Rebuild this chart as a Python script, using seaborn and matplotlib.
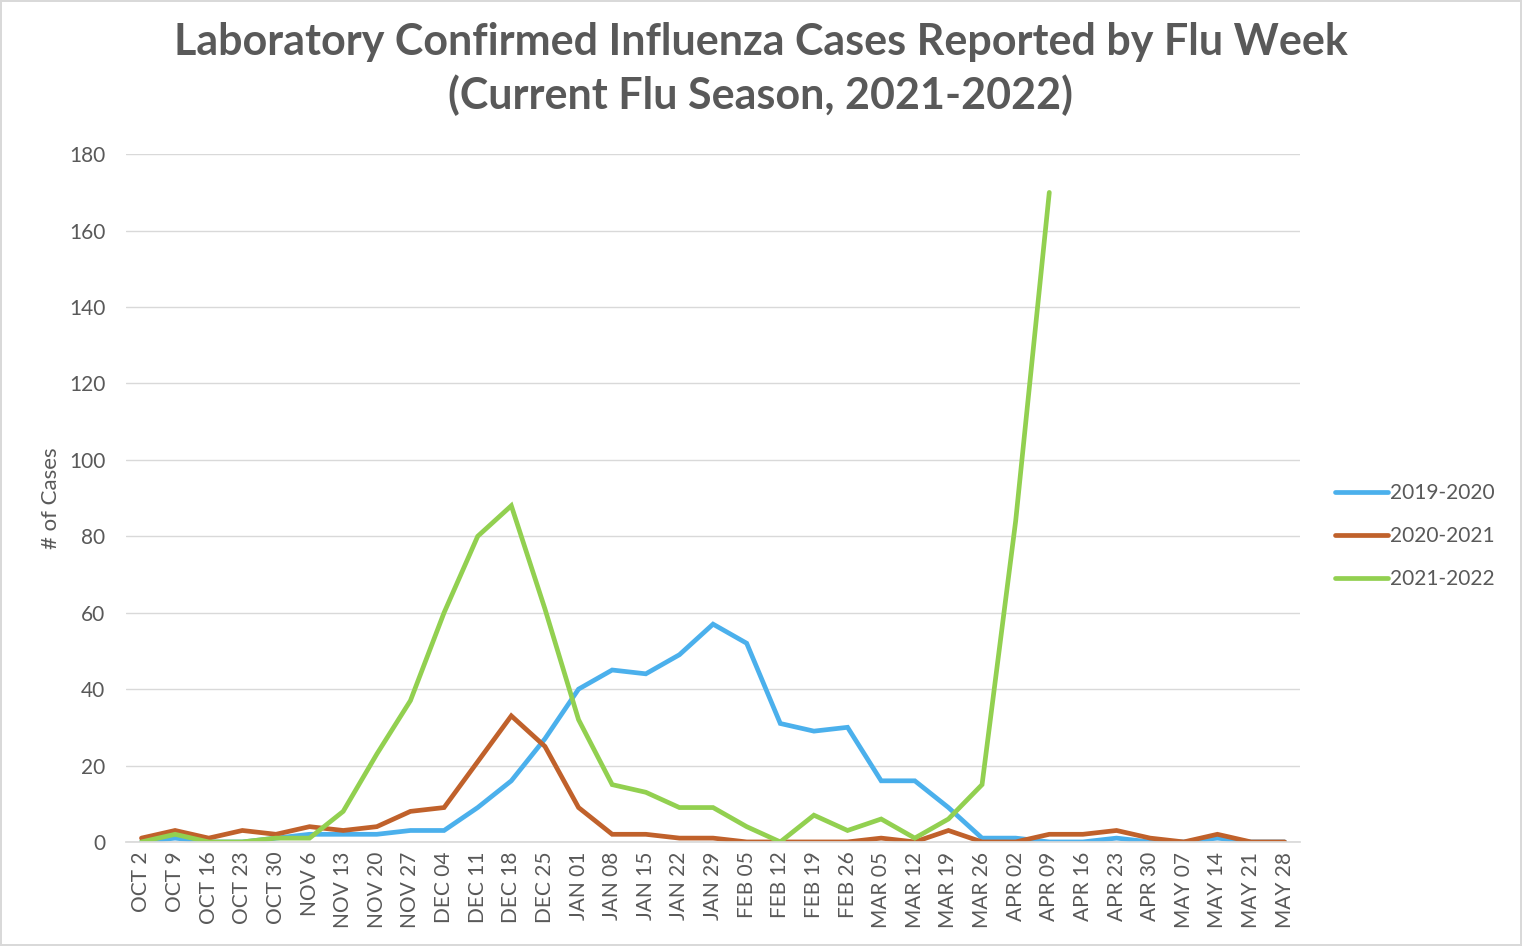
import numpy as np
import pandas as pd
import matplotlib
matplotlib.use("Agg")
import matplotlib.pyplot as plt
import seaborn as sns

# ── Data ────────────────────────────────────────────────────────
weeks = [
    "OCT 2", "OCT 9", "OCT 16", "OCT 23", "OCT 30", "NOV 6", "NOV 13",
    "NOV 20", "NOV 27", "DEC 04", "DEC 11", "DEC 18", "DEC 25", "JAN 01",
    "JAN 08", "JAN 15", "JAN 22", "JAN 29", "FEB 05", "FEB 12", "FEB 19",
    "FEB 26", "MAR 05", "MAR 12", "MAR 19", "MAR 26", "APR 02", "APR 09",
    "APR 16", "APR 23", "APR 30", "MAY 07", "MAY 14", "MAY 21", "MAY 28",
]
season_2019_2020 = [
    0, 1, 0, 0, 1, 2, 2, 2, 3, 3, 9, 16, 27, 40, 45, 44, 49, 57, 52, 31,
    29, 30, 16, 16, 9, 1, 1, 0, 0, 1, 0, 0, 1, 0, 0,
]
season_2020_2021 = [
    1, 3, 1, 3, 2, 4, 3, 4, 8, 9, 21, 33, 25, 9, 2, 2, 1, 1, 0, 0,
    0, 0, 1, 0, 3, 0, 0, 2, 2, 3, 1, 0, 2, 0, 0,
]
season_2021_2022 = [
    0, 2, 0, 0, 1, 1, 8, 23, 37, 60, 80, 88, 61, 32, 15, 13, 9, 9, 4, 0,
    7, 3, 6, 1, 6, 15, 84, 170,
] + [np.nan] * 7
seasons = ["2019-2020", "2020-2021", "2021-2022"]
colors = ["#4BB0EC", "#C0612B", "#92D050"]
y_ticks = [0, 20, 40, 60, 80, 100, 120, 140, 160, 180]

# ── Style ──────────────────────────────────────────────────────
sns.set_theme(style="white")
plt.rcParams["font.family"] = ["Lato", "DejaVu Sans"]
text_gray = "#595959"

df = pd.DataFrame({
    "week_idx": np.tile(np.arange(len(weeks)), 3),
    "cases": season_2019_2020 + season_2020_2021 + season_2021_2022,
    "season": np.repeat(seasons, len(weeks)),
})

fig = plt.figure(figsize=(15.22, 9.46), dpi=100)
fig.patch.set_edgecolor("#D9D9D9")
fig.patch.set_linewidth(1.5)
ax = fig.add_axes([0.083, 0.110, 0.771, 0.727])

sns.lineplot(
    data=df, x="week_idx", y="cases", hue="season", hue_order=seasons,
    palette=colors, linewidth=3.4, ax=ax, legend=True,
)
for line in ax.lines:
    line.set_solid_joinstyle("miter")

ax.set_xlim(-0.45, len(weeks) - 0.55)
ax.set_ylim(0, 180)
ax.set_yticks(y_ticks)
ax.set_xticks(range(len(weeks)))
ax.set_xticklabels(weeks, rotation=90, fontsize=15, color=text_gray)
ax.set_yticklabels([str(t) for t in y_ticks], fontsize=15, color=text_gray)
ax.tick_params(axis="y", length=0, pad=15)
ax.tick_params(axis="x", length=0, pad=7)

ax.grid(axis="y", color="#D9D9D9", linewidth=1)
ax.set_axisbelow(True)
for side in ["top", "right", "left"]:
    ax.spines[side].set_visible(False)
ax.spines["bottom"].set_color("#D9D9D9")

ax.set_xlabel("")
ax.set_ylabel("# of Cases", fontsize=16, color=text_gray, labelpad=6)

leg = ax.legend(
    title=None, frameon=False, loc="center left",
    bbox_to_anchor=(1.03, 0.445), fontsize=15, handlelength=2.55,
    handletextpad=0.1, labelspacing=1.1, labelcolor=text_gray,
    borderaxespad=0, borderpad=0,
)
for h in leg.get_lines():
    h.set_linewidth(3.4)

fig.text(
    0.5, 0.927,
    "Laboratory Confirmed Influenza Cases Reported by Flu Week\n"
    "(Current Flu Season, 2021-2022)",
    fontsize=31, fontweight="bold", color=text_gray,
    ha="center", va="center", linespacing=1.38,
)

fig.savefig("out.png", dpi=100)
